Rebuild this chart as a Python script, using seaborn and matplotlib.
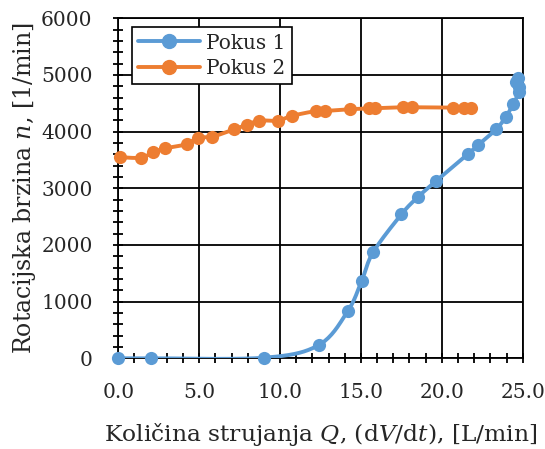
import numpy as np
import pandas as pd
import matplotlib
matplotlib.use("Agg")
import matplotlib.pyplot as plt
from matplotlib.lines import Line2D
from matplotlib.ticker import MultipleLocator, FormatStrFormatter
import seaborn as sns

# ---- data ----
q1 = [0.0, 2.0, 9.0, 12.4, 14.2, 15.05, 15.75, 17.5, 18.5, 19.65, 21.6, 22.25, 23.35, 23.95, 24.4, 24.8, 24.8, 24.6, 24.7]
n1 = [0, 0, 10, 235, 840, 1370, 1870, 2540, 2840, 3130, 3600, 3765, 4040, 4255, 4480, 4700, 4780, 4880, 4950]
q2 = [0.1, 1.4, 2.15, 2.9, 4.25, 4.9, 5.8, 7.15, 7.95, 8.7, 9.85, 10.75, 12.25, 12.8, 14.3, 15.5, 15.9, 17.6, 18.15, 20.7, 21.35, 21.8]
n2 = [3550, 3540, 3635, 3705, 3780, 3895, 3910, 4040, 4120, 4195, 4195, 4280, 4365, 4365, 4395, 4410, 4415, 4430, 4430, 4425, 4425, 4415]
series_names = ["Pokus 1", "Pokus 2"]
colors = ["#5B9BD5", "#ED7D31"]
xlabel = "Količina strujanja $Q$, (d$V$/d$t$), [L/min]"
ylabel = "Rotacijska brzina $n$, [1/min]"

sns.set_style("white")
plt.rcParams["font.family"] = ["DejaVu Serif"]
plt.rcParams["mathtext.fontset"] = "dejavuserif"


def smooth(x, y, sx=25.0, sy=6000.0 * 340 / 404, steps=20):
    """Bezier smoothing (Excel-like) in normalised space."""
    P = np.column_stack([np.asarray(x, float) / sx, np.asarray(y, float) / sy])
    n = len(P)
    out = [P[0]]
    for i in range(n - 1):
        p0 = P[i - 1] if i > 0 else P[i]
        p1 = P[i]
        p2 = P[i + 1]
        p3 = P[i + 2] if i + 2 < n else P[i + 1]
        c1 = p1 + (p2 - p0) / 6.0
        c2 = p2 - (p3 - p1) / 6.0
        t = np.linspace(0, 1, steps + 1)[1:, None]
        seg = ((1 - t) ** 3) * p1 + 3 * ((1 - t) ** 2) * t * c1 + 3 * (1 - t) * t ** 2 * c2 + t ** 3 * p2
        out.extend(seg)
    out = np.array(out)
    return out[:, 0] * sx, out[:, 1] * sy


fig = plt.figure(figsize=(5.45, 4.49), dpi=100)
ax = fig.add_axes([118.3 / 545, 1 - 358.3 / 449, (522.7 - 118.3) / 545, (358.3 - 18.3) / 449])

handles = []
for qs, ns, name, c in [(q1, n1, series_names[0], colors[0]), (q2, n2, series_names[1], colors[1])]:
    sxv, syv = smooth(qs, ns)
    curve = pd.DataFrame({"Q": sxv, "n": syv})
    pts = pd.DataFrame({"Q": qs, "n": ns})
    sns.lineplot(data=curve, x="Q", y="n", sort=False, estimator=None, color=c, lw=2.8, ax=ax, zorder=3)
    sns.scatterplot(data=pts, x="Q", y="n", color=c, s=90, linewidth=0, ax=ax, zorder=4, clip_on=False)
    handles.append(Line2D([], [], color=c, lw=2.8, marker="o", markersize=10, label=name))

ax.set_xlim(0, 25)
ax.set_ylim(0, 6000)
ax.xaxis.set_major_locator(MultipleLocator(5))
ax.xaxis.set_minor_locator(MultipleLocator(1))
ax.yaxis.set_major_locator(MultipleLocator(1000))
ax.yaxis.set_minor_locator(MultipleLocator(200))
ax.xaxis.set_major_formatter(FormatStrFormatter("%.1f"))
ax.grid(True, which="major", color="black", lw=1.3)
ax.set_axisbelow(True)
for s in ax.spines.values():
    s.set_color("black")
    s.set_linewidth(1.3)
ax.tick_params(axis="both", which="both", direction="inout", length=7, width=1.3,
               color="black", bottom=True, left=True, top=False, right=False, labelsize=14.5)
ax.tick_params(axis="x", pad=14)
ax.tick_params(axis="y", pad=15)
ax.set_xlabel(xlabel, fontsize=16.8, labelpad=14)
ax.set_ylabel(ylabel, fontsize=17, labelpad=2)

leg = ax.legend(handles=handles, loc="upper left", bbox_to_anchor=(0.033, 0.973), fontsize=14.5,
                frameon=True, fancybox=False, edgecolor="black", framealpha=1,
                handlelength=3.1, borderpad=0.3, labelspacing=0.3, handletextpad=0.3, borderaxespad=0)
leg.get_frame().set_linewidth(1.2)

fig.savefig("out.png", dpi=100)
